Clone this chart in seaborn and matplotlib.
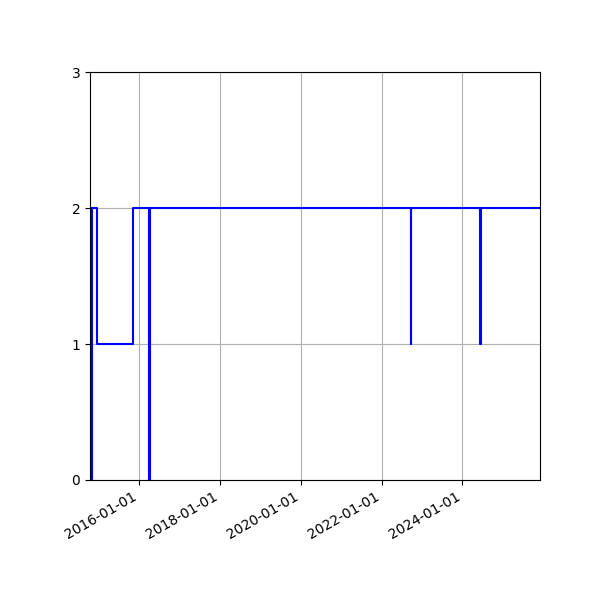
import pandas as pd
import matplotlib
matplotlib.use('Agg')
import matplotlib.pyplot as plt
import matplotlib.dates as mdates
import seaborn as sns

# Datas de mudança de estado e valores (degraus)
datas = ['2014-10-12', '2014-10-22', '2014-10-27', '2014-12-17', '2015-11-02',
         '2016-03-29', '2016-04-04', '2022-09-20', '2022-09-22',
         '2024-06-09', '2024-06-16', '2025-12-04']
valores = [2, 0, 2, 1, 2,
           0, 2, 1, 2,
           1, 2, 2]

df = pd.DataFrame({'data': pd.to_datetime(datas), 'valor': valores})

fig, ax = plt.subplots(figsize=(6, 6), dpi=100)
sns.lineplot(data=df, x='data', y='valor', drawstyle='steps-post',
             color='blue', linewidth=1.5, estimator=None, ax=ax)

ax.set_xlim(df['data'].iloc[0], df['data'].iloc[-1])
ax.set_ylim(0, 3)
ax.set_yticks([0, 1, 2, 3])
ax.xaxis.set_major_locator(mdates.YearLocator(2))
ax.xaxis.set_major_formatter(mdates.DateFormatter('%Y-%m-%d'))
ax.set_xlabel('')
ax.set_ylabel('')
ax.grid(True)
fig.autofmt_xdate()
fig.subplots_adjust(left=0.15, right=0.9, top=0.88, bottom=0.2)
fig.savefig('out.png')
